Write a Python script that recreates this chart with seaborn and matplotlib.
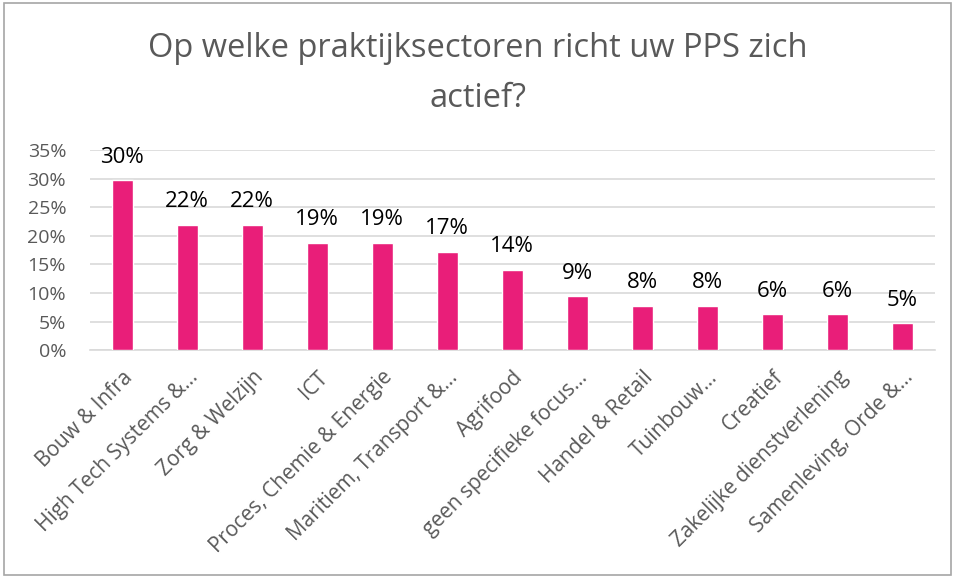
import matplotlib
import matplotlib.pyplot as plt
import pandas as pd
import seaborn as sns
from matplotlib.patches import Rectangle
from matplotlib.ticker import PercentFormatter

sectors = ['Bouw & Infra', 'High Tech Systems &...', 'Zorg & Welzijn', 'ICT',
           'Proces, Chemie & Energie', 'Maritiem, Transport &...', 'Agrifood',
           'geen specifieke focus...', 'Handel & Retail', 'Tuinbouw...',
           'Creatief', 'Zakelijke dienstverlening', 'Samenleving, Orde &...']
shares = [0.297, 0.219, 0.219, 0.188, 0.188, 0.172, 0.141,
          0.094, 0.078, 0.078, 0.0625, 0.0625, 0.047]
y_ticks = [0, 0.05, 0.10, 0.15, 0.20, 0.25, 0.30, 0.35]

TITLE = 'Op welke praktijksectoren richt uw PPS zich\nactief?'
BAR_COLOR = '#E91E79'
TEXT_GRAY = '#595959'

sns.set_style('white')
plt.rcParams['font.family'] = ['Open Sans', 'DejaVu Sans']

df = pd.DataFrame({'sector': sectors, 'share': shares})

fig = plt.figure(figsize=(9.55, 5.77), dpi=100)
ax = fig.add_axes([0.094, 0.393, 0.885, 0.347])

sns.barplot(data=df, x='sector', y='share', color=BAR_COLOR, width=0.32,
            saturation=1, ax=ax, zorder=3)

ax.set_ylim(0, 0.35)
ax.set_yticks(y_ticks)
ax.yaxis.set_major_formatter(PercentFormatter(1.0, decimals=0))
ax.grid(axis='y', color='#D9D9D9', linewidth=1.2, zorder=0)
for side in ['top', 'right', 'left']:
    ax.spines[side].set_visible(False)
ax.spines['bottom'].set_color('#D9D9D9')
ax.spines['bottom'].set_linewidth(1.2)
ax.tick_params(axis='y', length=0, labelsize=14, colors=TEXT_GRAY, pad=17)
ax.tick_params(axis='x', length=0, labelsize=15, colors=TEXT_GRAY, pad=12)
ax.set_xlabel('')
ax.set_ylabel('')

for lbl in ax.get_xticklabels():
    lbl.set_rotation(45)
    lbl.set_ha('right')
    lbl.set_rotation_mode('anchor')

for container in ax.containers:
    ax.bar_label(container, labels=[f'{v:.0%}' for v in shares],
                 padding=9, fontsize=16, color='black')

fig.text(0.5, 0.945, TITLE, ha='center', va='top', fontsize=23.5,
         color=TEXT_GRAY, linespacing=1.7)

fig.patches.append(Rectangle((0.004, 0.004), 0.992, 0.99, transform=fig.transFigure,
                             fill=False, edgecolor='#A6A6A6', linewidth=1.2))

fig.savefig('out.png', dpi=100)
